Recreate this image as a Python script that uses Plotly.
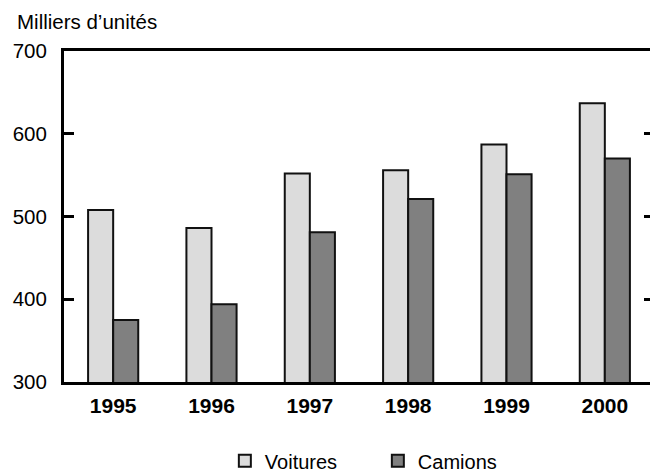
import plotly.graph_objects as go

years = ["1995", "1996", "1997", "1998", "1999", "2000"]
voitures = [508, 486, 552, 556, 587, 637]
camions = [375, 394, 481, 521, 551, 570]
y_ticks = [300, 400, 500, 600, 700]

FONT = "Liberation Sans, Arial, Helvetica, sans-serif"

fig = go.Figure()
fig.add_trace(go.Bar(x=years, y=voitures, name="Voitures",
                     marker=dict(color="#dcdcdc", line=dict(color="#111111", width=2))))
fig.add_trace(go.Bar(x=years, y=camions, name="Camions",
                     marker=dict(color="#808080", line=dict(color="#111111", width=2))))

# the page body adds an 8px offset, so the figure is 8px smaller in each direction
fig.update_layout(
    width=650, height=464,
    margin=dict(l=56, r=4, t=43, b=90, autoexpand=False),
    plot_bgcolor="white", paper_bgcolor="white",
    barmode="group", bargap=0.49, bargroupgap=0,
    font=dict(family=FONT, size=20, color="black"),
    legend=dict(orientation="h", xref="container", yref="container",
                x=0.569, xanchor="center", y=0.024, yanchor="middle",
                font=dict(size=20), traceorder="normal",
                entrywidth=108, entrywidthmode="pixels"),
    annotations=[dict(text="Milliers d’unités", xref="paper", yref="paper",
                      x=-49/590, y=1 + 29/331, xanchor="left", yanchor="middle",
                      showarrow=False, font=dict(size=20.5))],
)
fig.update_xaxes(showline=True, linecolor="black", linewidth=3, mirror=True,
                 ticks="", showgrid=False, automargin=False,
                 tickfont=dict(size=21, family=FONT, weight="bold"),
                 ticklabelstandoff=3)
fig.update_yaxes(range=[300, 700], tickvals=y_ticks, showline=True, linecolor="black",
                 linewidth=3, mirror="ticks", ticks="inside", ticklen=10, tickwidth=3,
                 tickcolor="black", showgrid=False, zeroline=False, automargin=False,
                 tickfont=dict(size=20.5), ticklabelstandoff=10)

fig.write_html("out.html")
